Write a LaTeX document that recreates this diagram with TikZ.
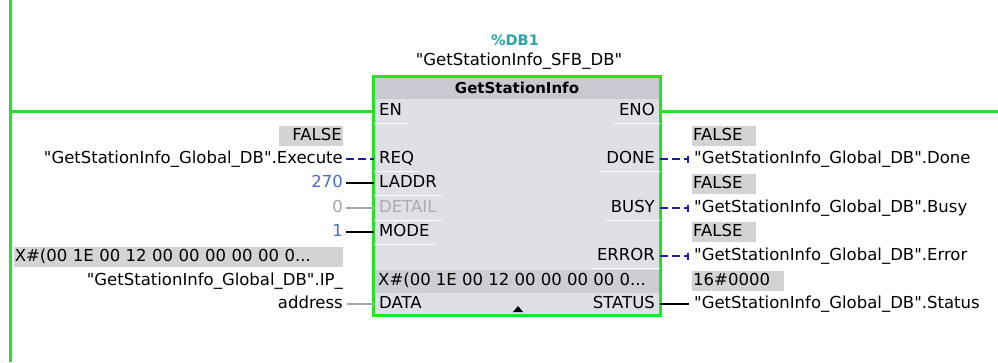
\documentclass[tikz,border=0pt]{standalone}
\usepackage{fontspec}
\setmainfont{DejaVu Sans}
\usepackage{tikz}
\usetikzlibrary{arrows.meta, positioning}

\definecolor{ladgreen}{HTML}{22E622}
\definecolor{fbbody}{HTML}{DFDFE6}
\definecolor{fbhead}{HTML}{C9C9D1}
\definecolor{fbband}{HTML}{CDCDD4}
\definecolor{tagfill}{HTML}{D3D3D3}
\definecolor{boolblue}{HTML}{1C1CA8}
\definecolor{constblue}{HTML}{4A6CC8}
\definecolor{dbteal}{HTML}{2AA3AB}
\newcommand{\fbfont}{\fontsize{16.5}{19}\selectfont}
\newcommand{\qq}{\textquotedbl}

\tikzset{
  lbl/.style={font=\fbfont, inner sep=0pt, text height=12pt, text depth=3.5pt},
  pinL/.style={lbl, anchor=west, inner xsep=5pt},
  pinR/.style={lbl, anchor=east, inner xsep=5pt},
  tagL/.style={lbl, anchor=east, fill=tagfill, inner xsep=1pt, inner ysep=2.5pt, text width=#1, align=right},
  tagR/.style={lbl, anchor=west, fill=tagfill, inner xsep=1pt, inner ysep=2.5pt, text width=#1, align=left},
  rung/.style={ladgreen, line width=3pt},
  boolwire/.style={boolblue, line width=2pt, dash pattern=on 8pt off 4pt},
  wordwire/.style={black, line width=2pt},
  offwire/.style={gray!70, line width=1.5pt},
  pinsep/.style={white, line width=1pt},
}

\begin{document}
\begin{tikzpicture}[x=1pt, y=-1pt]
  \useasboundingbox (0,0) rectangle (998,362);
  % power rail and rung ends
  \coordinate (railTop) at (10,0);
  \coordinate (railBot) at (10,362);
  \coordinate (rungL) at (10,111);
  \coordinate (rungR) at (998,111);
  % block body, header and DATA band
  \node[fill=fbbody, minimum width=286pt, minimum height=238pt, inner sep=0pt] (fb) at (517,196) {};
  \fill[fbhead] (fb.north west) rectangle (660,99);
  \fill[fbband] (374,270) rectangle (660,293);
  \draw[ladgreen, line width=3pt] (fb.north west) rectangle (fb.south east);
  \fill (513,312) -- (523,312) -- (518,306) -- cycle;
  % instance DB and block type
  \node[font=\bfseries\fontsize{14.5}{17}\selectfont, text=dbteal, inner sep=0pt] (dbnum) at (515,40) {\%DB1};
  \node[lbl] (dbname) at (519,61) {\qq GetStationInfo\_SFB\_DB\qq};
  \node[font=\bfseries\fontsize{15}{18}\selectfont, inner sep=0pt] (fbname) at (517,88) {GetStationInfo};
  % pins
  \node[pinL] (en) at (374,111) {EN};
  \node[pinL] (req) at (374,159) {REQ};
  \node[pinL] (laddr) at (374,183) {LADDR};
  \node[pinL, text=gray!65] (detail) at (374,208) {DETAIL};
  \node[pinL] (mode) at (374,232) {MODE};
  \node[pinL] (data) at (374,304) {DATA};
  \node[pinR] (eno) at (660,111) {ENO};
  \node[pinR] (done) at (660,159) {DONE};
  \node[pinR] (busy) at (660,208) {BUSY};
  \node[pinR] (error) at (660,256) {ERROR};
  \node[pinR] (status) at (660,304) {STATUS};
  \node[lbl, anchor=west] (dataval) at (378,281) {X\#(00 1E 00 12 00 00 00 00 0...};
  \foreach \p in {en, req, laddr, detail, mode, eno, done, busy, error}
    \draw[pinsep] ([yshift=-5pt]\p.south west) -- ([yshift=-5pt]\p.south east);
  % inputs
  \node[tagL=62pt] (reqtag) at (343,136) {FALSE};
  \node[lbl, anchor=east] (execute) at (343,159) {\qq GetStationInfo\_Global\_DB\qq.Execute};
  \node[lbl, anchor=east, text=constblue] (laddrval) at (343,183) {270};
  \node[lbl, anchor=east, text=gray!70] (detailval) at (343,208) {0};
  \node[lbl, anchor=east, text=constblue] (modeval) at (343,232) {1};
  \node[tagL=327pt, align=left] (datatag) at (343,257) {X\#(00 1E 00 12 00 00 00 00 00 0...};
  \node[lbl, anchor=east] (ipaddr) at (343,281) {\qq GetStationInfo\_Global\_DB\qq.IP\_};
  \node[lbl, anchor=east] (address) at (343,304) {address};
  % outputs
  \node[tagR=62pt] (donetag) at (692,136) {FALSE};
  \node[lbl, anchor=west] (doneval) at (694,159) {\qq GetStationInfo\_Global\_DB\qq.Done};
  \node[tagR=62pt] (busytag) at (692,184) {FALSE};
  \node[lbl, anchor=west] (busyval) at (694,208) {\qq GetStationInfo\_Global\_DB\qq.Busy};
  \node[tagR=62pt] (errortag) at (692,232) {FALSE};
  \node[lbl, anchor=west] (errorval) at (694,256) {\qq GetStationInfo\_Global\_DB\qq.Error};
  \node[tagR=90pt] (statustag) at (692,281) {16\#0000};
  \node[lbl, anchor=west] (statusval) at (694,304) {\qq GetStationInfo\_Global\_DB\qq.Status};
  % wiring
  \draw[rung] (railTop) -- (railBot);
  \draw[rung] (rungL) -- (en.west);
  \draw[rung] (eno.east) -- (rungR);
  \draw[boolwire, shorten <=3pt] (execute.east) -- (req.west);
  \draw[wordwire, shorten <=3pt] (laddrval.east) -- (laddr.west);
  \draw[offwire, shorten <=3pt] (detailval.east) -- (detail.west);
  \draw[wordwire, shorten <=3pt] (modeval.east) -- (mode.west);
  \draw[offwire, shorten <=4pt] (address.east) -- (data.west);
  \foreach \p in {done, busy, error}
    \draw[boolwire, -{Bar[width=7pt, line width=2pt]}, shorten >=5pt] (\p.east) -- (\p val.west);
  \draw[wordwire, shorten >=5pt] (status.east) -- (statusval.west);
\end{tikzpicture}
\end{document}
